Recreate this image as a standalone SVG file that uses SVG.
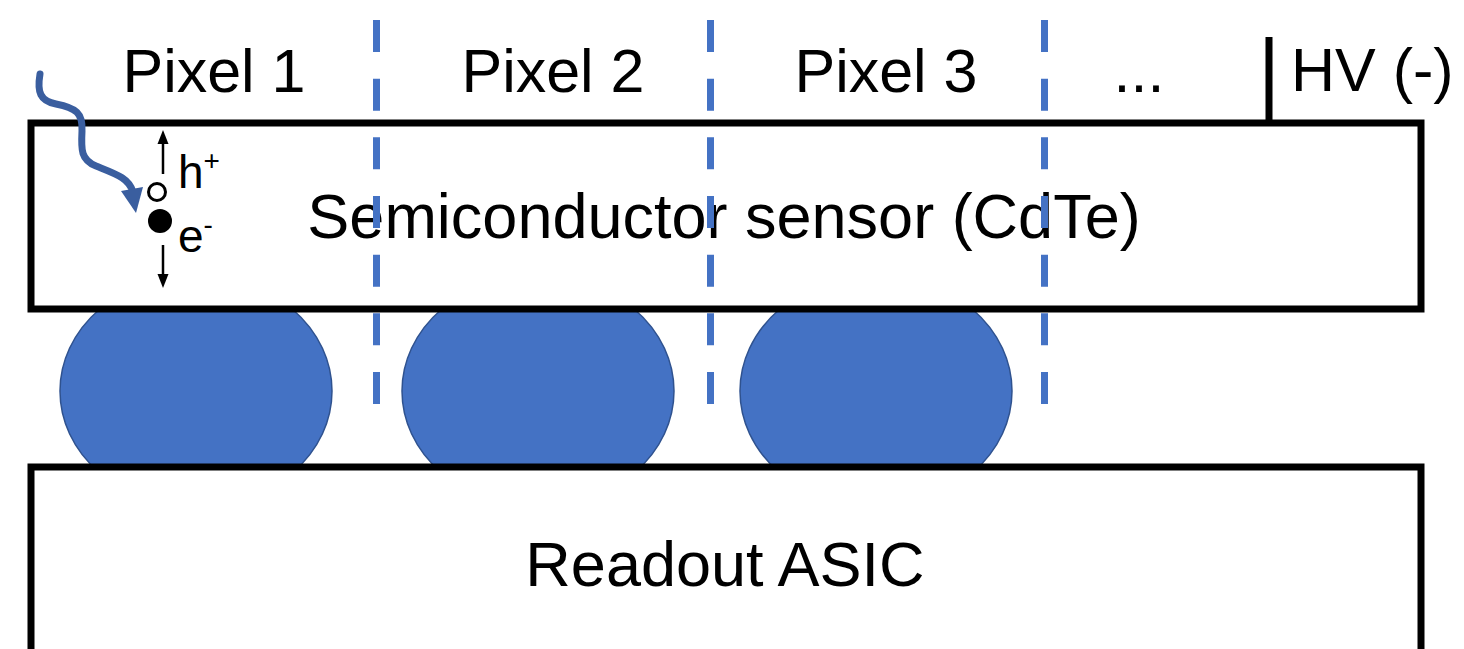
<svg xmlns="http://www.w3.org/2000/svg" width="1464" height="649" viewBox="0 0 1464 649">
<defs>
<style>
.lbl{font-family:"Liberation Sans",Arial,Helvetica,sans-serif;font-size:63px;fill:#000}
.top{font-size:61px}
.sm{font-family:"Liberation Sans",Arial,Helvetica,sans-serif;font-size:46px;fill:#000}
.box{fill:#fff;stroke:#000;stroke-width:7}
.bump{fill:#4472C4;stroke:#2F528F;stroke-width:1.5}
.div{stroke:#4472C4;stroke-width:7;stroke-dasharray:32 26.67;fill:none}
.arr{stroke:#000;stroke-width:2.5;fill:none}
.head{fill:#000}
</style>
</defs>
<rect width="1464" height="649" fill="#fff"/>
<g id="bump1"><ellipse class="bump" cx="196" cy="391" rx="136" ry="116"/></g>
<g id="bump2"><ellipse class="bump" cx="538" cy="391" rx="136" ry="116"/></g>
<g id="bump3"><ellipse class="bump" cx="876" cy="391" rx="136" ry="116"/></g>
<g id="sensor">
<rect class="box" x="31" y="123" width="1390" height="186"/>
<text class="lbl" x="724" y="238" text-anchor="middle">Semiconductor sensor (CdTe)</text>
</g>
<g id="asic">
<rect class="box" x="31" y="467" width="1390" height="200"/>
<text class="lbl" x="725" y="586" text-anchor="middle">Readout ASIC</text>
</g>
<g id="hv">
<line x1="1269" y1="37" x2="1269" y2="123" stroke="#000" stroke-width="7"/>
<text class="lbl top" x="1291" y="91">HV (-)</text>
</g>
<g id="pixel-labels">
<text class="lbl top" x="214" y="92" text-anchor="middle">Pixel 1</text>
<text class="lbl top" x="553" y="92" text-anchor="middle">Pixel 2</text>
<text class="lbl top" x="886" y="92" text-anchor="middle">Pixel 3</text>
<text class="lbl top" x="1139" y="92" text-anchor="middle">...</text>
</g>
<g id="carriers">
<circle cx="157" cy="192" r="8.5" fill="#fff" stroke="#000" stroke-width="3"/>
<circle cx="160" cy="221" r="12" fill="#000"/>
<text class="sm" x="178" y="188">h<tspan font-size="28" dy="-18">+</tspan></text>
<text class="sm" x="178" y="252">e<tspan font-size="28" dy="-18">-</tspan></text>
</g>
<g id="connectors">
<line class="arr" x1="163" y1="174" x2="163" y2="142"/>
<polygon class="head" points="157.5,144 168.5,144 163,130"/>
<line class="arr" x1="163" y1="245" x2="163" y2="276"/>
<polygon class="head" points="157.5,274 168.5,274 163,288"/>
<path d="M40,74 C37,92 40,101 56,104 C76,108 83,113 82,131 C81,150 81,160 96,166 C116,174 129,178 133,192" fill="none" stroke="#3A5E9F" stroke-width="7" stroke-linecap="round"/>
<polygon points="121,191 143,187 136,213" fill="#3A5E9F"/>
</g>
<g id="dividers">
<line class="div" x1="376.5" y1="20" x2="376.5" y2="404"/>
<line class="div" x1="710.5" y1="20" x2="710.5" y2="404"/>
<line class="div" x1="1044.5" y1="20" x2="1044.5" y2="404"/>
</g>
</svg>
